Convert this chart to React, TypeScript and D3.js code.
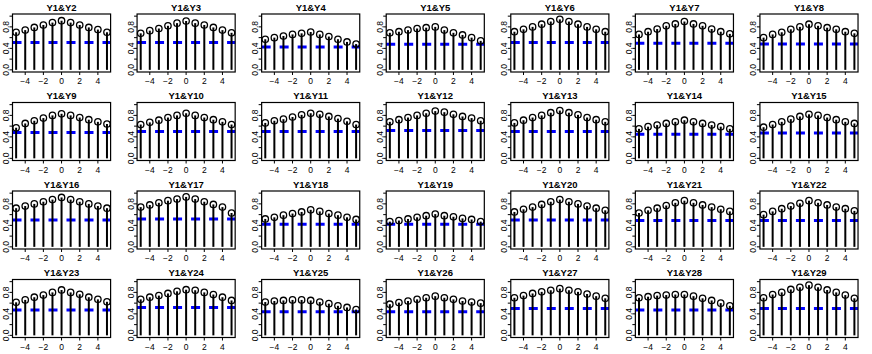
import * as d3 from 'd3'
import { useEffect, useRef } from 'react';

// lags shown on every panel
const lags = [-5, -4, -3, -2, -1, 0, 1, 2, 3, 4, 5];

const panelNames = [
    "Y1&Y2", "Y1&Y3", "Y1&Y4", "Y1&Y5", "Y1&Y6", "Y1&Y7", "Y1&Y8",
    "Y1&Y9", "Y1&Y10", "Y1&Y11", "Y1&Y12", "Y1&Y13", "Y1&Y14", "Y1&Y15",
    "Y1&Y16", "Y1&Y17", "Y1&Y18", "Y1&Y19", "Y1&Y20", "Y1&Y21", "Y1&Y22",
    "Y1&Y23", "Y1&Y24", "Y1&Y25", "Y1&Y26", "Y1&Y27", "Y1&Y28", "Y1&Y29"
];

// cross-correlation at each lag, one row per panel
const ccfValues = [
    [0.70, 0.74, 0.79, 0.835, 0.88, 0.915, 0.88, 0.835, 0.79, 0.75, 0.70],
    [0.68, 0.73, 0.77, 0.82, 0.87, 0.91, 0.87, 0.835, 0.79, 0.74, 0.69],
    [0.57, 0.60, 0.63, 0.66, 0.68, 0.705, 0.66, 0.62, 0.57, 0.52, 0.48],
    [0.69, 0.71, 0.74, 0.77, 0.785, 0.80, 0.74, 0.69, 0.65, 0.60, 0.54],
    [0.71, 0.755, 0.80, 0.85, 0.90, 0.94, 0.90, 0.85, 0.80, 0.755, 0.71],
    [0.66, 0.71, 0.76, 0.82, 0.855, 0.90, 0.855, 0.82, 0.76, 0.71, 0.67],
    [0.60, 0.66, 0.70, 0.755, 0.80, 0.85, 0.82, 0.785, 0.755, 0.71, 0.68],

    [0.57, 0.65, 0.70, 0.75, 0.80, 0.83, 0.80, 0.76, 0.72, 0.68, 0.64],
    [0.63, 0.67, 0.71, 0.76, 0.80, 0.84, 0.80, 0.76, 0.72, 0.68, 0.63],
    [0.66, 0.70, 0.73, 0.77, 0.81, 0.84, 0.82, 0.78, 0.74, 0.69, 0.63],
    [0.68, 0.72, 0.76, 0.80, 0.84, 0.88, 0.86, 0.82, 0.78, 0.75, 0.70],
    [0.66, 0.71, 0.76, 0.80, 0.85, 0.89, 0.85, 0.81, 0.76, 0.72, 0.68],
    [0.55, 0.59, 0.62, 0.65, 0.68, 0.71, 0.68, 0.65, 0.62, 0.59, 0.55],
    [0.58, 0.63, 0.68, 0.73, 0.78, 0.82, 0.80, 0.76, 0.72, 0.68, 0.65],

    [0.72, 0.76, 0.80, 0.84, 0.88, 0.92, 0.88, 0.84, 0.80, 0.76, 0.72],
    [0.74, 0.78, 0.82, 0.86, 0.89, 0.93, 0.89, 0.84, 0.79, 0.74, 0.63],
    [0.52, 0.55, 0.59, 0.62, 0.65, 0.69, 0.66, 0.62, 0.59, 0.55, 0.51],
    [0.47, 0.49, 0.52, 0.55, 0.58, 0.61, 0.58, 0.56, 0.53, 0.51, 0.47],
    [0.65, 0.70, 0.74, 0.79, 0.84, 0.88, 0.84, 0.80, 0.76, 0.72, 0.68],
    [0.63, 0.68, 0.72, 0.77, 0.82, 0.86, 0.82, 0.78, 0.74, 0.70, 0.66],
    [0.60, 0.66, 0.71, 0.76, 0.81, 0.86, 0.82, 0.78, 0.74, 0.71, 0.67],

    [0.615, 0.66, 0.71, 0.75, 0.80, 0.845, 0.80, 0.765, 0.71, 0.67, 0.625],
    [0.67, 0.71, 0.74, 0.78, 0.82, 0.85, 0.84, 0.80, 0.76, 0.71, 0.65],
    [0.62, 0.64, 0.65, 0.66, 0.66, 0.65, 0.62, 0.59, 0.55, 0.52, 0.48],
    [0.58, 0.61, 0.64, 0.67, 0.70, 0.73, 0.70, 0.67, 0.64, 0.62, 0.60],
    [0.70, 0.74, 0.78, 0.81, 0.84, 0.87, 0.84, 0.81, 0.77, 0.73, 0.69],
    [0.70, 0.72, 0.74, 0.75, 0.76, 0.76, 0.73, 0.69, 0.65, 0.60, 0.55],
    [0.70, 0.76, 0.80, 0.855, 0.895, 0.935, 0.895, 0.845, 0.80, 0.75, 0.69]
];

// blue dashed reference level per panel
const thresholds = [
    0.51, 0.51, 0.425, 0.475, 0.51, 0.495, 0.48,
    0.48, 0.50, 0.50, 0.52, 0.50, 0.45, 0.47,
    0.50, 0.52, 0.42, 0.42, 0.50, 0.49, 0.49,
    0.47, 0.52, 0.44, 0.44, 0.50, 0.47, 0.50
];

const xTicks = [-4, -2, 0, 2, 4];
const yTicks = [0, 0.2, 0.4, 0.6, 0.8, 1.0];
const yLabels = [0, 0.4, 0.8];

function makeChart( svgEl ) {
    const svg = d3.select( svgEl );
    svg.selectAll( "*" ).remove();

    const W = 872, H = 354, nCol = 7, nRow = 4;
    const cw = W / nCol, ch = H / nRow;
    const left = 12.5, right = 110.6, top = 14, bottom = 72;

    const x = d3.scaleLinear().domain( [-5.4, 5.4] ).range( [left, right] );
    const y = d3.scaleLinear().domain( [-0.04, 1.04] ).range( [bottom, top] );
    const fmt = d => d3.format( ".1f" )( d );

    panelNames.forEach( ( name, i ) => {
        const g = svg.append( "g" )
            .attr( "transform", "translate(" + ( ( i % nCol ) * cw ) + "," + ( Math.floor( i / nCol ) * ch ) + ")" );
        const vals = ccfValues[i];

        // title
        g.append( "text" ).attr( "x", ( left + right ) / 2 ).attr( "y", 10.5 )
            .attr( "text-anchor", "middle" ).attr( "font-weight", "bold" )
            .attr( "font-size", 9.5 ).text( name );

        // dashed blue level
        g.append( "line" )
            .attr( "x1", left ).attr( "x2", right )
            .attr( "y1", y( thresholds[i] ) ).attr( "y2", y( thresholds[i] ) )
            .attr( "stroke", "#0000ff" ).attr( "stroke-width", 3 )
            .attr( "stroke-dasharray", "9,9" );

        // stems
        g.selectAll( "line.stem" ).data( lags ).enter().append( "line" )
            .classed( "stem", true )
            .attr( "x1", d => x( d ) ).attr( "x2", d => x( d ) )
            .attr( "y1", y( 0 ) ).attr( "y2", ( d, j ) => y( vals[j] ) )
            .attr( "stroke", "black" ).attr( "stroke-width", 2 );

        // points
        g.selectAll( "circle" ).data( lags ).enter().append( "circle" )
            .attr( "cx", d => x( d ) ).attr( "cy", ( d, j ) => y( vals[j] ) )
            .attr( "r", 3.2 ).attr( "fill", "none" )
            .attr( "stroke", "black" ).attr( "stroke-width", 1.3 );

        // frame
        g.append( "rect" ).attr( "x", left ).attr( "y", top )
            .attr( "width", right - left ).attr( "height", bottom - top )
            .attr( "fill", "none" ).attr( "stroke", "black" ).attr( "stroke-width", 1.2 );

        // x axis
        g.selectAll( "line.xt" ).data( xTicks ).enter().append( "line" )
            .classed( "xt", true )
            .attr( "x1", d => x( d ) ).attr( "x2", d => x( d ) )
            .attr( "y1", bottom ).attr( "y2", bottom + 3 )
            .attr( "stroke", "black" );
        g.selectAll( "text.xl" ).data( xTicks ).enter().append( "text" )
            .classed( "xl", true )
            .attr( "x", d => x( d ) ).attr( "y", 84 )
            .attr( "text-anchor", "middle" ).attr( "font-size", 8.5 )
            .text( d => d < 0 ? "\u2212" + Math.abs( d ) : d );

        // y axis
        g.selectAll( "line.yt" ).data( yTicks ).enter().append( "line" )
            .classed( "yt", true )
            .attr( "x1", left - 3 ).attr( "x2", left )
            .attr( "y1", d => y( d ) ).attr( "y2", d => y( d ) )
            .attr( "stroke", "black" );
        g.selectAll( "text.yl" ).data( yLabels ).enter().append( "text" )
            .classed( "yl", true )
            .attr( "transform", d => "translate(9," + y( d ) + ") rotate(-90)" )
            .attr( "text-anchor", "middle" ).attr( "font-size", 8.5 )
            .text( fmt );
    } );
}

function App() {
    const ref = useRef( null );
    useEffect( () => {
        makeChart( ref.current );
    } );

    return (
        <svg ref={ref} width="872" height="354"
            style={{ position: "absolute", left: 0, top: 0, background: "white", fontFamily: "'Liberation Sans', Arial, sans-serif" }}>
        </svg>
    );
}

export default App;
